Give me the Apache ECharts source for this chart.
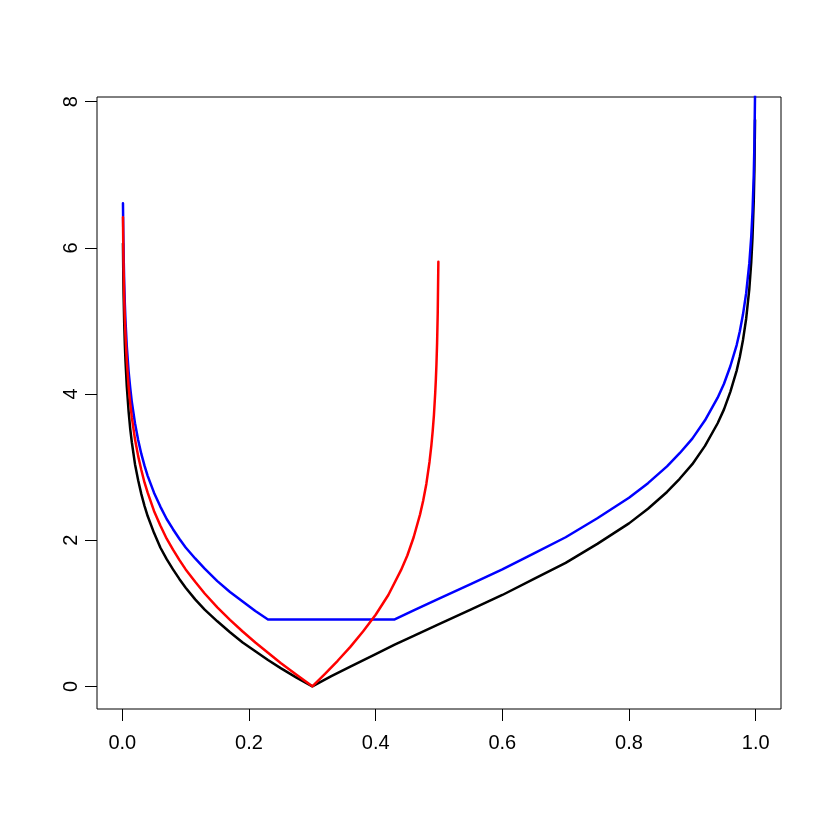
<!DOCTYPE html>
<html>
<head>
<meta charset="utf-8">
<script src="https://cdn.jsdelivr.net/npm/echarts@6/dist/echarts.min.js"></script>
<style>
  html, body { margin: 0; padding: 0; background: #fff; }
  #main { width: 830px; height: 830px; }
</style>
</head>
<body>
<div id="main"></div>
<script>
// x positions shared by the black and blue curves
var pGrid = [0.001, 0.0015, 0.002, 0.003, 0.004, 0.005, 0.007, 0.01, 0.0125, 0.015,
  0.02, 0.025, 0.03, 0.035, 0.04, 0.05, 0.06, 0.07, 0.08, 0.09,
  0.1, 0.115, 0.13, 0.15, 0.17, 0.19, 0.21, 0.23, 0.25, 0.275,
  0.3, 0.33, 0.36, 0.4, 0.43, 0.46, 0.5, 0.55, 0.6, 0.65,
  0.7, 0.75, 0.8, 0.83, 0.86, 0.88, 0.9, 0.92, 0.94, 0.95,
  0.96, 0.97, 0.975, 0.98, 0.985, 0.99, 0.993, 0.995, 0.997, 0.998,
  0.999];

var blackVals = [6.06, 5.65, 5.37, 4.96, 4.67, 4.45, 4.11, 3.75, 3.52, 3.34,
  3.04, 2.82, 2.63, 2.47, 2.33, 2.10, 1.90, 1.74, 1.60, 1.47,
  1.35, 1.19, 1.05, 0.89, 0.74, 0.60, 0.48, 0.36, 0.25, 0.12,
  0, 0.14, 0.27, 0.44, 0.57, 0.69, 0.85, 1.05, 1.25, 1.47,
  1.69, 1.95, 2.23, 2.43, 2.66, 2.84, 3.04, 3.29, 3.60, 3.79,
  4.03, 4.32, 4.51, 4.74, 5.03, 5.44, 5.80, 6.14, 6.65, 7.06,
  7.75];

var blueVals = [6.61, 6.21, 5.92, 5.51, 5.22, 5.00, 4.66, 4.30, 4.08, 3.89,
  3.60, 3.37, 3.18, 3.02, 2.88, 2.65, 2.46, 2.29, 2.15, 2.02,
  1.90, 1.75, 1.61, 1.44, 1.29, 1.16, 1.03, 0.915, 0.915, 0.915,
  0.915, 0.915, 0.915, 0.915, 0.915, 1.04, 1.20, 1.40, 1.60, 1.82,
  2.04, 2.30, 2.58, 2.78, 3.01, 3.19, 3.39, 3.64, 3.95, 4.14,
  4.38, 4.67, 4.86, 5.09, 5.38, 5.79, 6.15, 6.49, 7.00, 7.41,
  8.10];

// red curve only runs up to 0.5
var pRed = [0.001, 0.0015, 0.002, 0.003, 0.004, 0.005, 0.007, 0.01, 0.0125, 0.015,
  0.02, 0.025, 0.03, 0.035, 0.04, 0.05, 0.06, 0.07, 0.08, 0.09,
  0.1, 0.115, 0.13, 0.15, 0.17, 0.19, 0.21, 0.23, 0.25, 0.275,
  0.3, 0.32, 0.34, 0.36, 0.38, 0.4, 0.42, 0.44, 0.45, 0.46,
  0.47, 0.475, 0.48, 0.485, 0.488, 0.49, 0.492, 0.494, 0.495, 0.496,
  0.497, 0.498, 0.499];

var redVals = [6.42, 6.01, 5.72, 5.31, 5.02, 4.80, 4.46, 4.09, 3.87, 3.68,
  3.38, 3.15, 2.96, 2.79, 2.65, 2.40, 2.20, 2.02, 1.87, 1.73,
  1.60, 1.43, 1.27, 1.08, 0.91, 0.75, 0.60, 0.46, 0.32, 0.16,
  0, 0.17, 0.35, 0.54, 0.75, 0.98, 1.25, 1.59, 1.79, 2.04,
  2.35, 2.54, 2.77, 3.07, 3.30, 3.49, 3.71, 4.01, 4.19, 4.41,
  4.70, 5.11, 5.81];

var xTicks = [0, 0.2, 0.4, 0.6, 0.8, 1.0];
var yTicks = [0, 2, 4, 6, 8];

function pairs(xs, ys) {
  return xs.map(function (x, i) { return [x, ys[i]]; });
}

var font = 'Liberation Sans, Arial, Helvetica, sans-serif';

function curve(xs, ys, color, z) {
  return {
    type: 'line',
    data: pairs(xs, ys),
    showSymbol: false,
    z: z,
    lineStyle: { color: color, width: 2.5, cap: 'round', join: 'round' }
  };
}

var option = {
  animation: false,
  backgroundColor: '#fff',
  grid: {
    left: 97, right: 49, top: 97, bottom: 121,
    show: true,
    borderColor: '#000',
    borderWidth: 1,
    outerBoundsMode: 'none'
  },
  xAxis: {
    type: 'value',
    min: -0.04,
    max: 1.04,
    axisLine: { show: false, onZero: false },
    splitLine: { show: false },
    axisTick: {
      show: true, inside: false, length: 12,
      customValues: xTicks,
      lineStyle: { color: '#000', width: 1 }
    },
    axisLabel: {
      customValues: xTicks,
      margin: 24,
      color: '#000',
      fontSize: 20,
      fontFamily: font,
      formatter: function (v) { return v.toFixed(1); }
    }
  },
  yAxis: {
    type: 'value',
    min: -0.31,
    max: 8.064,
    axisLine: { show: false, onZero: false },
    splitLine: { show: false },
    axisTick: {
      show: true, inside: false, length: 12,
      customValues: yTicks,
      lineStyle: { color: '#000', width: 1 }
    },
    axisLabel: {
      customValues: yTicks,
      rotate: 90,
      margin: 16,
      color: '#000',
      fontSize: 20,
      fontFamily: font,
      formatter: function (v) { return String(v); }
    }
  },
  series: [
    curve(pGrid, blackVals, '#000000', 2),
    curve(pGrid, blueVals, '#0000ff', 3),
    curve(pRed, redVals, '#ff0000', 4)
  ]
};

echarts.init(document.getElementById('main')).setOption(option);
</script>
</body>
</html>
